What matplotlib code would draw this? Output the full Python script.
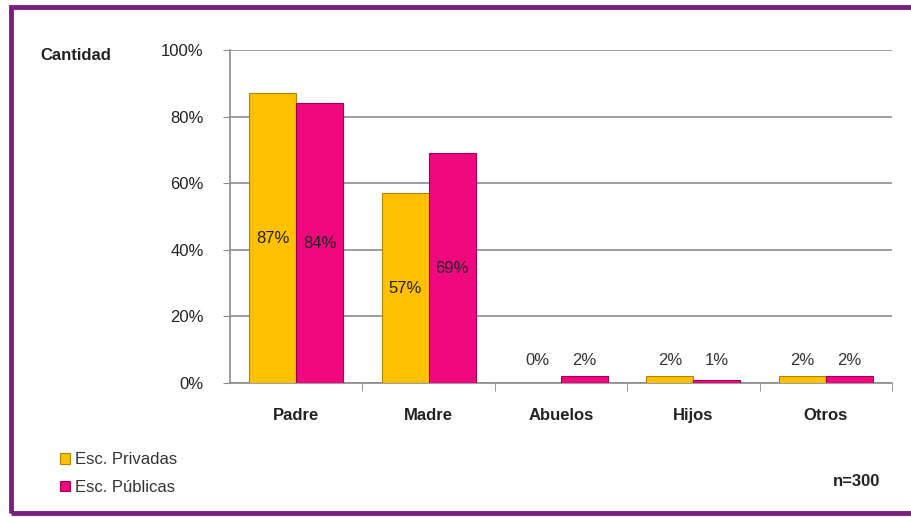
import matplotlib.pyplot as plt
import numpy as np
from matplotlib.patches import Rectangle

categorias = ["Padre", "Madre", "Abuelos", "Hijos", "Otros"]
privadas = [87, 57, 0, 2, 2]
publicas = [84, 69, 2, 1, 2]
etiquetas_priv = ["87%", "57%", "0%", "2%", "2%"]
etiquetas_pub = ["84%", "69%", "2%", "1%", "2%"]

amarillo = "#FFC000"
rosa = "#F0087E"

plt.rcParams['font.family'] = ['Liberation Sans', 'DejaVu Sans']

fig = plt.figure(figsize=(9.11, 5.17), dpi=100)
fig.patches.append(Rectangle((0.012, 0.008), 0.99, 0.978, transform=fig.transFigure,
                             fill=False, edgecolor="#7B1F7E", linewidth=3.5))

ax = fig.add_axes([230 / 911, 1 - 383 / 517, 662 / 911, 333 / 517])
x = np.arange(len(categorias))
w = 0.355
b1 = ax.bar(x - w / 2, privadas, w, color=amarillo, edgecolor="#B08400", linewidth=0.8, zorder=3)
b2 = ax.bar(x + w / 2, publicas, w, color=rosa, edgecolor="#A0004F", linewidth=0.8, zorder=3)

for i in range(len(categorias)):
    for xi, v, lab in [(x[i] - w / 2, privadas[i], etiquetas_priv[i]),
                       (x[i] + w / 2, publicas[i], etiquetas_pub[i])]:
        if v > 20:
            ax.text(xi, v / 2, lab, ha="center", va="center", fontsize=12, color="#222222", zorder=4)
        else:
            ax.text(xi, 4.5, lab, ha="center", va="bottom", fontsize=12, color="#333333", zorder=4)

ax.set_xlim(-0.5, 4.5)
ax.set_ylim(0, 100)
ax.set_yticks(range(0, 101, 20))
ax.set_yticklabels([f"{t}%" for t in range(0, 101, 20)], fontsize=12, color="#222222")
ax.yaxis.grid(True, color="#8C8C8C", linewidth=1.2, zorder=0)
ax.set_xticks(x)
ax.set_xticklabels(categorias, fontsize=12, fontweight="bold", color="#222222")
ax.set_xticks(np.arange(0.5, 4.6, 1), minor=True)
ax.tick_params(axis="x", which="major", length=0, pad=18)
ax.tick_params(axis="x", which="minor", length=6, color="#8C8C8C")
ax.tick_params(axis="y", length=5, color="#8C8C8C", pad=14)
for s in ["top", "right"]:
    ax.spines[s].set_visible(False)
for s in ["left", "bottom"]:
    ax.spines[s].set_color("#8C8C8C")
    ax.spines[s].set_linewidth(1.2)

fig.text(40 / 911, 1 - 55 / 517, "Cantidad", fontsize=12, fontweight="bold", va="center", color="#222222")
fig.text(880 / 911, 1 - 481 / 517, "n=300", fontsize=12, fontweight="bold", va="center", ha="right",
         color="#222222")

fig.legend([b1, b2], ["Esc. Privadas", "Esc. Públicas"], loc="upper left",
           bbox_to_anchor=(52 / 911, 1 - 444 / 517), frameon=False, fontsize=12,
           labelcolor="#333333", borderpad=0,
           handlelength=0.6, handleheight=0.6, handletextpad=0.3, labelspacing=0.75)

fig.savefig("out.png", dpi=100)
